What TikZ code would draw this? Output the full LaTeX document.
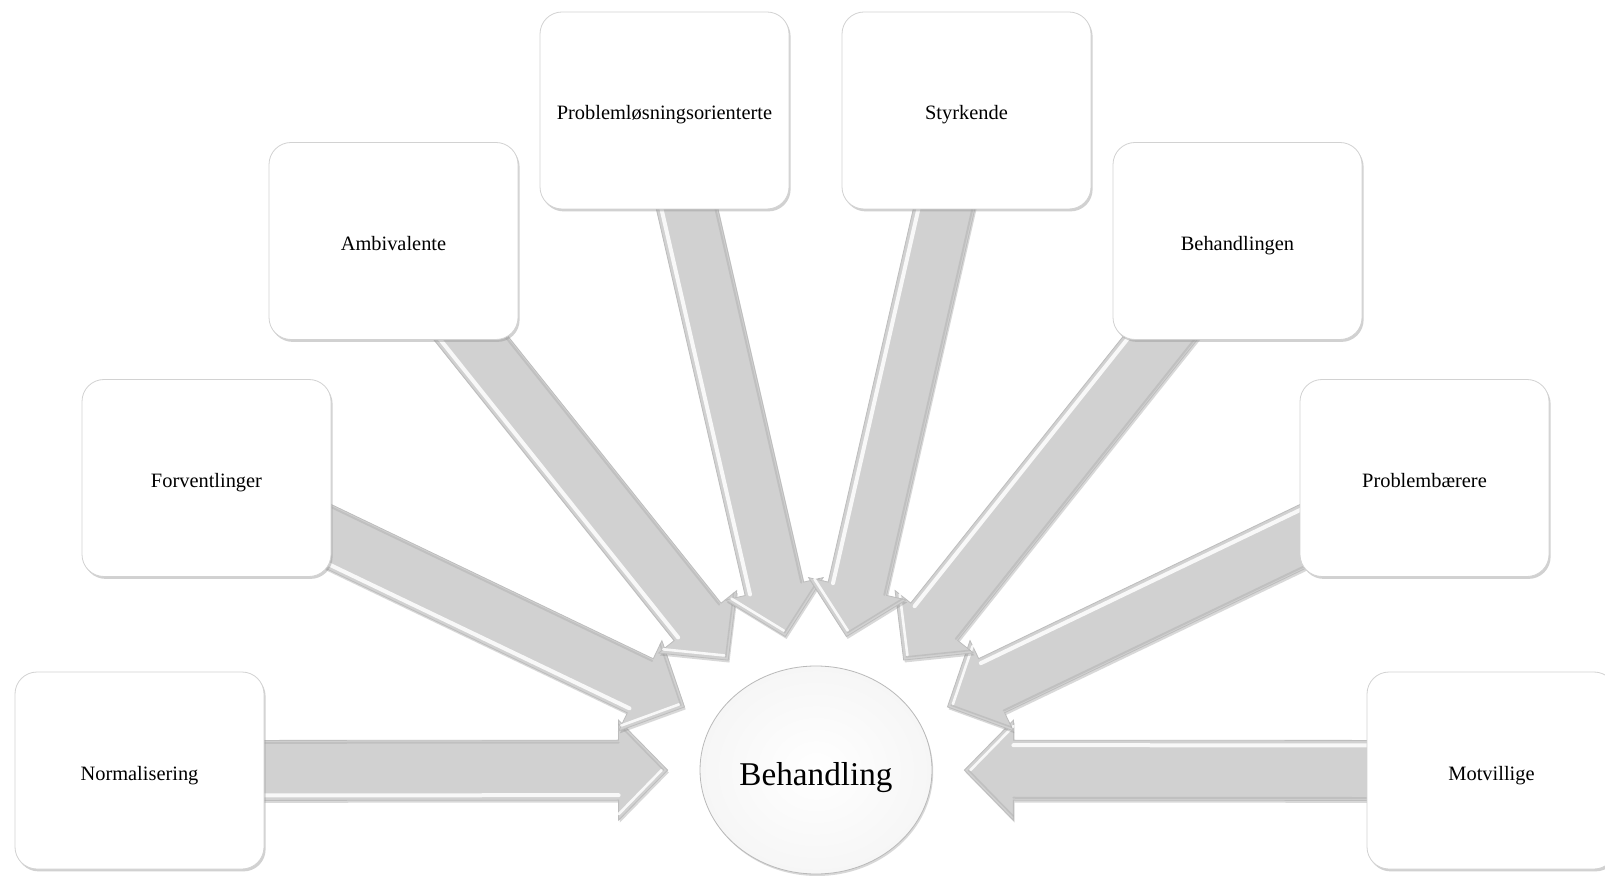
\documentclass[tikz,border=0pt]{standalone}
\usepackage{fontspec}
\setmainfont{Liberation Serif}
\usetikzlibrary{calc,shapes.geometric,shadows}
\pgfdeclarelayer{arrows}
\pgfsetlayers{arrows,main}

\tikzset{
  card/.style={draw=gray!35, line width=0.4pt, fill=white, rounded corners=11pt,
    minimum width=124.5pt, minimum height=98.5pt, inner sep=0pt,
    text height=11.7pt, text depth=2.2pt,
    font=\fontsize{10.2}{12}\selectfont,
    drop shadow={shadow xshift=0.8pt, shadow yshift=-1.2pt, opacity=0.45, fill=gray!80}},
  hub/.style={ellipse, draw=gray!55, line width=0.4pt, inner color=white, outer color=gray!7,
    minimum width=116pt, minimum height=104pt, inner sep=0pt,
    text height=18.8pt, text depth=3.6pt,
    font=\fontsize{16.6}{20}\selectfont,
    drop shadow={shadow xshift=0.6pt, shadow yshift=-1pt, opacity=0.3, fill=gray}},
  arrowbody/.style={fill=gray!36, draw=gray!52, line width=0.4pt, line join=miter,
    drop shadow={shadow xshift=0.6pt, shadow yshift=-1.2pt, opacity=0.3, fill=gray}},
  glint/.style={white, line width=2pt, opacity=0.85, line cap=round},
  rim/.style={gray!65, line width=1pt, opacity=0.45, line cap=round},
}

% block arrow from the centre of card #1 towards the hub, stopping short of it
\newcommand\radarrow[1]{%
  \path (hub) -- (#1) coordinate[pos=0] (#1-e);
  \coordinate (#1-tip) at ($(#1-e)!16pt!(#1)$);
  \coordinate (#1-neck) at ($(#1-tip)!24.5pt!(#1)$);
  \path[arrowbody]
    ($(#1)!15pt!90:(#1-tip)$) -- ($(#1-neck)!15pt!90:(#1-tip)$)
    -- ($(#1-neck)!25pt!90:(#1-tip)$) -- (#1-tip)
    -- ($(#1-neck)!25pt!-90:(#1-tip)$) -- ($(#1-neck)!15pt!-90:(#1-tip)$)
    -- ($(#1)!15pt!-90:(#1-tip)$) -- cycle;
  % bevel: bright edge on one side, darker edge on the other
  \draw[glint] ($(#1)!12.5pt!-90:(#1-tip)$) -- ($(#1-neck)!12.5pt!-90:(#1-tip)$);
  \draw[glint, line width=1.3pt] ($(#1-neck)!22pt!-90:(#1-tip)$) -- ($(#1-tip)!3pt!(#1-neck)$);
  \draw[rim] ($(#1)!13.8pt!90:(#1-tip)$) -- ($(#1-neck)!13.8pt!90:(#1-tip)$);
  \draw[rim, line width=0.8pt] ($(#1-neck)!23pt!90:(#1-tip)$) -- ($(#1-tip)!2pt!(#1-neck)$);
}

\begin{document}
\begin{tikzpicture}[x=0.5pt, y=-0.5pt]
  \useasboundingbox (0,0) rectangle (1605,876);

  \node[hub] (hub) at (816,770) {Behandling};

  \node[card] (norm) at (139.5,770.5) {Normalisering};
  \node[card] (forv) at (206.5,478)   {Forventlinger};
  \node[card] (ambi) at (393.5,241)   {Ambivalente};
  \node[card] (prob) at (664.5,110.5) {Problemløsningsorienterte};
  \node[card] (styr) at (966.5,110.5) {Styrkende};
  \node[card] (beha) at (1237.5,241)  {Behandlingen};
  \node[card] (pbae) at (1424.5,478)  {Problembærere};
  \node[card] (motv) at (1491.5,770.5) {Motvillige};

  \begin{pgfonlayer}{arrows}
    \fill[white] (0,0) rectangle (1605,876);
    \foreach \n in {norm,motv,forv,pbae,ambi,beha,prob,styr} {\radarrow{\n}}
  \end{pgfonlayer}
\end{tikzpicture}
\end{document}
